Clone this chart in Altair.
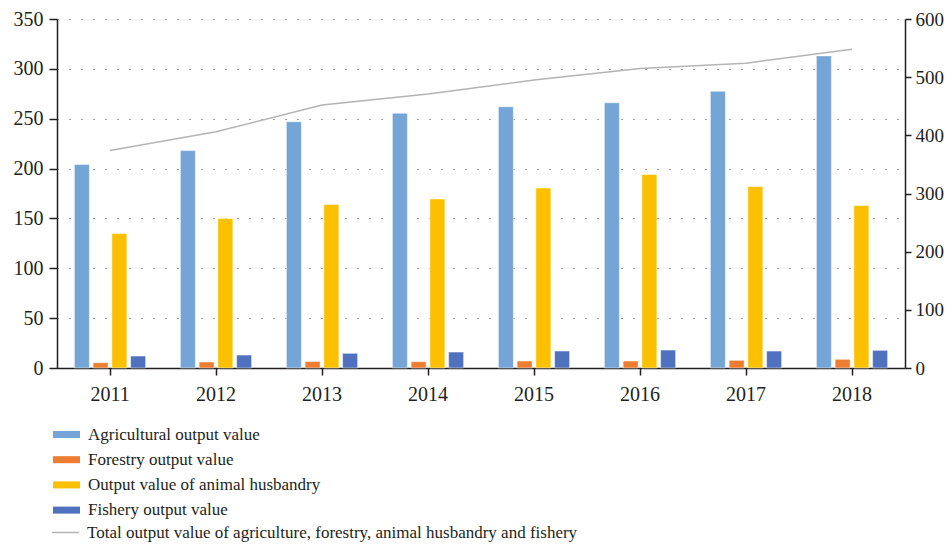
import altair as alt
import pandas as pd

years = ["2011", "2012", "2013", "2014", "2015", "2016", "2017", "2018"]
series = [
    "Agricultural output value",
    "Forestry output value",
    "Output value of animal husbandry",
    "Fishery output value",
]
agri = [204, 218, 247, 255.5, 262, 266, 277.5, 313]
forestry = [5.3, 6.0, 6.5, 6.3, 7.0, 7.0, 7.7, 8.7]
animal = [135, 150, 164, 169.5, 180.5, 194, 182, 163]
fishery = [12, 13, 14.7, 16, 17, 18, 17, 17.7]
total_name = "Total output value of agriculture, forestry, animal husbandry and fishery"
total = [374, 406, 452, 471, 495, 515, 524, 548]

colors = ["#75a5d6", "#ed7d31", "#fbc100", "#4f71be"]
left_ticks = [0, 50, 100, 150, 200, 250, 300, 350]
right_ticks = [0, 100, 200, 300, 400, 500, 600]

rows = []
for s, vals in zip(series, [agri, forestry, animal, fishery]):
    for y, v in zip(years, vals):
        rows.append({"year": y, "series": s, "value": v})
bars_df = pd.DataFrame(rows)
line_df = pd.DataFrame({"year": years, "total": total, "name": total_name})

FONT = "Liberation Serif"
INK = "#231f20"
AX = dict(labelFont=FONT, labelColor=INK, domainColor=INK,
          tickColor=INK, domainWidth=1.5, tickWidth=1.5, title=None)

x_enc = alt.X(
    "year:N",
    sort=years,
    scale=alt.Scale(paddingInner=0.328, paddingOuter=0.164),
    axis=alt.Axis(labelAngle=0, grid=False, tickSize=7, labelPadding=9,
                  labelFontSize=20, **AX),
)

bars = alt.Chart(bars_df).mark_bar(stroke="white", strokeWidth=0.8, strokeOpacity=0.6).encode(
    x=x_enc,
    xOffset=alt.XOffset("series:N", sort=series,
                        scale=alt.Scale(domain=series, paddingInner=0.2, paddingOuter=0)),
    y=alt.Y("value:Q",
            scale=alt.Scale(domain=[0, 350], nice=False),
            axis=alt.Axis(values=left_ticks, orient="left", grid=True,
                          gridDash=[1, 11], gridColor="#444444", gridWidth=1.2,
                          tickSize=8, labelPadding=6, labelFontSize=20, **AX)),
    fill=alt.Fill("series:N", sort=series,
                  scale=alt.Scale(domain=series, range=colors),
                  legend=alt.Legend(orient="none", legendX=1, legendY=407, title=None,
                                    symbolType="M-2,-0.52H2V0.52H-2Z", symbolSize=182,
                                    symbolStrokeWidth=0, labelOffset=13, padding=0,
                                    rowPadding=7.2, labelFont=FONT, labelFontSize=17,
                                    labelColor=INK, labelLimit=900)),
)

line = alt.Chart(line_df).mark_line(strokeWidth=1.5).encode(
    x=alt.X("year:N", sort=years),
    y=alt.Y("total:Q",
            scale=alt.Scale(domain=[0, 600], nice=False),
            axis=alt.Axis(values=right_ticks, orient="right", grid=False,
                          tickSize=6, labelPadding=4, labelFontSize=19, **AX)),
    stroke=alt.Stroke("name:N",
                      scale=alt.Scale(domain=[total_name], range=["#b4b4b4"]),
                      legend=alt.Legend(orient="none", legendX=-6, legendY=499, title=None,
                                        symbolType="stroke", symbolSize=729,
                                        symbolStrokeWidth=1.5, labelOffset=7, padding=0,
                                        labelFont=FONT, labelFontSize=17,
                                        labelColor=INK, labelLimit=900)),
)

chart = (
    alt.layer(bars, line)
    .resolve_scale(y="independent", fill="independent", stroke="independent")
    .properties(
        width=848,
        height=349,
        autosize=alt.AutoSizeParams(type="none"),
        padding={"left": 49, "top": 11, "right": 39, "bottom": 175},
    )
    .configure_view(stroke=None)
)

chart.save("out.html", embed_options={"renderer": "svg", "actions": False})
